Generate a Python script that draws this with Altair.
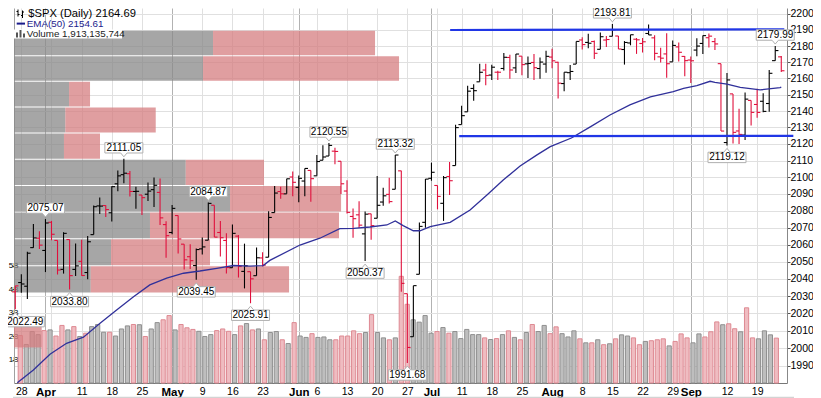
import altair as alt
import pandas as pd

FONT = "Liberation Sans"

# ---------------- data ----------------
dates = ["03-24","03-28","03-29","03-30","03-31",
 "04-01","04-04","04-05","04-06","04-07","04-08","04-11","04-12","04-13","04-14","04-15","04-18","04-19","04-20","04-21","04-22","04-25","04-26","04-27","04-28","04-29",
 "05-02","05-03","05-04","05-05","05-06","05-09","05-10","05-11","05-12","05-13","05-16","05-17","05-18","05-19","05-20","05-23","05-24","05-25","05-26","05-27","05-31",
 "06-01","06-02","06-03","06-06","06-07","06-08","06-09","06-10","06-13","06-14","06-15","06-16","06-17","06-20","06-21","06-22","06-23","06-24","06-27","06-28","06-29","06-30",
 "07-01","07-05","07-06","07-07","07-08","07-11","07-12","07-13","07-14","07-15","07-18","07-19","07-20","07-21","07-22","07-25","07-26","07-27","07-28","07-29",
 "08-01","08-02","08-03","08-04","08-05","08-08","08-09","08-10","08-11","08-12","08-15","08-16","08-17","08-18","08-19","08-22","08-23","08-24","08-25","08-26","08-29","08-30","08-31",
 "09-01","09-02","09-06","09-07","09-08","09-09","09-12","09-13","09-14","09-15","09-16","09-19","09-20","09-21","09-22","09-23"]

opens = [2032.48,2037.89,2035.75,2058.27,2063.77,
 2056.62,2073.19,2062.50,2045.56,2063.01,2045.54,2050.23,2043.72,2065.92,2082.89,2083.10,2078.83,2096.05,2101.52,2102.09,2091.49,2089.37,2089.84,2092.57,2090.93,2071.82,
 2067.17,2077.18,2060.30,2052.95,2047.77,2057.55,2062.63,2083.29,2067.17,2062.50,2046.53,2065.04,2044.38,2044.21,2041.88,2052.23,2052.65,2078.93,2091.44,2090.06,2100.13,
 2093.94,2097.71,2104.07,2100.83,2110.18,2112.71,2115.65,2109.57,2091.75,2076.65,2077.60,2066.36,2078.20,2075.58,2085.19,2089.75,2092.80,2103.81,2031.45,2006.67,2042.69,2073.17,
 2099.34,2095.05,2084.43,2100.42,2106.97,2131.72,2139.50,2153.81,2157.88,2165.13,2162.04,2163.79,2166.10,2172.91,2166.47,2173.71,2168.97,2169.81,2166.05,2168.83,
 2173.15,2169.94,2156.81,2163.51,2168.79,2183.76,2182.24,2182.81,2177.97,2183.74,2186.08,2186.24,2177.84,2181.90,2184.24,2181.58,2187.81,2185.09,2173.29,2175.10,2170.19,2179.45,2173.56,
 2171.33,2177.49,2181.61,2185.17,2182.76,2169.08,2120.86,2150.47,2127.86,2125.36,2146.48,2143.99,2145.94,2144.58,2170.94,2173.29]

highs = [2036.04,2042.67,2055.91,2072.21,2067.92,
 2075.07,2074.02,2062.50,2067.33,2063.01,2060.63,2062.93,2065.05,2083.18,2087.84,2083.22,2094.66,2104.05,2111.05,2103.78,2094.32,2089.37,2096.87,2099.89,2099.30,2073.85,
 2083.42,2077.18,2060.30,2060.23,2057.72,2064.15,2084.87,2083.29,2073.99,2066.79,2071.88,2065.69,2060.61,2044.21,2058.35,2055.58,2079.67,2094.73,2094.30,2099.06,2103.48,
 2100.97,2105.26,2104.07,2113.36,2119.22,2120.55,2117.64,2109.57,2098.12,2081.30,2085.65,2079.62,2078.20,2100.66,2093.66,2099.71,2113.32,2103.81,2031.45,2036.09,2073.13,2098.94,
 2108.71,2095.05,2100.72,2109.08,2131.71,2143.16,2155.40,2156.45,2168.99,2169.05,2168.35,2164.63,2175.63,2174.56,2175.11,2173.71,2173.54,2174.98,2172.85,2177.09,
 2178.29,2170.20,2163.79,2168.19,2182.87,2185.44,2187.66,2183.41,2188.45,2186.28,2193.81,2186.24,2183.08,2187.03,2185.00,2184.94,2193.42,2186.66,2179.00,2187.94,2183.48,2182.27,2173.79,
 2173.56,2184.87,2186.57,2187.87,2184.94,2169.08,2163.30,2150.47,2141.33,2151.31,2146.48,2153.61,2150.80,2165.11,2179.99,2173.75]

lows = [2022.49,2031.96,2028.31,2058.27,2057.46,
 2043.98,2062.57,2042.56,2043.09,2033.80,2041.69,2041.88,2039.74,2065.92,2078.13,2076.31,2073.65,2091.68,2096.32,2088.52,2081.20,2077.52,2085.80,2082.31,2071.62,2052.28,
 2066.11,2054.89,2045.55,2045.77,2039.45,2054.31,2062.63,2064.46,2053.13,2043.13,2046.53,2040.82,2034.49,2025.91,2041.88,2047.26,2052.65,2078.93,2087.08,2090.06,2088.66,
 2085.10,2088.59,2085.36,2100.83,2110.18,2112.71,2107.73,2089.96,2078.46,2064.10,2069.80,2050.37,2062.84,2075.58,2083.02,2084.36,2092.80,2032.57,1991.68,2006.67,2042.69,2070.00,
 2097.90,2080.86,2074.02,2089.39,2106.97,2131.72,2139.50,2146.21,2157.88,2155.79,2159.07,2159.01,2164.89,2159.75,2163.24,2161.95,2160.18,2159.07,2159.74,2163.49,
 2166.21,2147.58,2152.14,2159.07,2168.79,2177.85,2178.61,2172.00,2177.97,2179.42,2186.08,2178.14,2168.50,2180.46,2175.13,2175.96,2186.80,2171.25,2169.74,2160.39,2170.19,2170.41,2161.35,
 2157.09,2173.59,2175.10,2179.07,2177.49,2127.81,2119.12,2120.27,2119.90,2122.36,2131.20,2135.91,2139.17,2139.57,2170.94,2163.97]

closes = [2035.94,2037.05,2055.01,2063.95,2059.74,
 2072.78,2066.13,2045.17,2066.66,2041.91,2047.60,2041.99,2061.72,2082.42,2082.78,2080.73,2094.34,2100.80,2102.40,2091.48,2091.58,2087.79,2091.70,2095.15,2075.81,2065.30,
 2081.43,2063.37,2051.12,2050.63,2057.14,2058.69,2084.39,2064.46,2064.11,2046.61,2066.66,2047.21,2047.63,2040.04,2052.32,2048.04,2076.06,2090.54,2090.10,2099.06,2096.95,
 2099.33,2105.26,2099.13,2109.41,2112.13,2119.12,2115.48,2096.07,2079.06,2075.32,2071.50,2077.99,2071.22,2083.25,2088.90,2085.45,2113.32,2037.41,2000.54,2036.09,2070.77,2098.86,
 2102.95,2088.55,2099.73,2097.90,2129.90,2137.16,2152.14,2152.43,2163.75,2161.74,2166.89,2163.78,2173.02,2165.17,2175.03,2168.48,2169.18,2166.58,2170.06,2173.60,
 2170.84,2157.03,2163.79,2164.25,2182.87,2180.89,2181.74,2175.49,2185.79,2184.05,2190.15,2178.15,2182.22,2187.02,2183.87,2182.64,2186.90,2175.44,2172.47,2169.04,2180.38,2176.12,2170.95,
 2170.86,2179.98,2186.48,2186.16,2181.30,2127.81,2159.04,2127.02,2125.77,2147.26,2139.16,2139.12,2139.76,2163.12,2177.18,2164.69]
prev_close = 2036.71

# volume, billions
volumes = [2.02,1.64,2.19,2.06,2.23,
 2.26,2.00,2.45,2.26,2.40,1.98,2.12,2.40,2.49,2.16,2.16,2.00,2.30,2.43,2.49,2.48,1.98,2.30,2.57,2.69,2.87,
 2.26,2.49,2.35,2.28,2.20,1.98,2.06,2.23,2.30,2.20,2.06,2.43,2.53,2.26,2.30,1.84,2.15,2.19,1.84,1.68,2.57,
 2.00,1.94,2.10,1.94,1.96,1.84,1.84,2.00,2.00,2.22,2.10,2.15,2.91,2.15,1.92,1.84,1.92,4.54,3.35,2.69,2.59,2.87,
 2.12,2.19,2.36,2.12,2.19,1.89,2.28,2.06,2.06,1.92,1.85,1.89,2.06,2.22,1.94,1.84,2.15,2.49,2.19,2.45,
 2.10,2.39,2.10,1.96,2.22,1.88,1.71,1.71,1.84,1.63,1.67,1.88,2.05,2.00,1.92,1.63,1.77,1.80,1.84,1.88,1.58,1.77,2.09,
 1.92,1.71,2.09,1.96,2.18,2.60,2.48,2.52,2.31,2.18,3.20,1.92,1.88,2.22,2.05,1.91]

# EMA(50): bar position, value
ema_pos = [0.33,3.0,5.75,8.5,11.3,14.05,16.8,19.6,22.3,25.1,27.9,30.6,33.4,36.2,38.9,41.1,42.2,47.2,50.5,53.8,56.1,58.8,61.6,63.0,64.3,66.0,67.1,68.8,72.1,75.4,78.2,80.9,83.7,86.5,88.7,92.2,95.4,98.6,101.9,105.3,109.1,110.8,113.0,115.2,116.0,118.0,120.2,123.5,126.8,127.0]
ema_val = [1980.5,1987.7,1996.7,2002.9,2006.4,2014.4,2022.0,2029.7,2036.5,2040.4,2043.3,2044.6,2046.2,2047.8,2047.5,2047.8,2050.8,2059.8,2063.8,2069.4,2069.6,2070.4,2071.6,2074.0,2071.2,2068.2,2068.2,2070.6,2073.2,2080.5,2089.4,2098.3,2106.7,2113.4,2118.4,2123.6,2130.5,2137.6,2143.7,2148.7,2151.8,2153.9,2155.5,2158.2,2157.6,2156.5,2154.5,2152.9,2154.3,2154.61]

# volume by price zones (billions)
vbp_bounds = [2000.54,2016.34,2032.14,2047.94,2063.74,2079.55,2095.35,2111.15,2126.95,2142.75,2158.55,2174.35,2190.15]
vbp_up   = [0.0,0.0,8.92,11.28,15.81,25.12,19.97,5.81,5.97,6.40,21.98,23.14]
vbp_down = [3.22,0.0,23.06,11.51,21.98,12.91,9.10,4.19,10.51,2.44,22.79,18.84]

# annotations
ann_dates = ["03-24","04-01","04-07","04-20","05-06","05-10","05-19","06-08","06-16","06-23","06-27","08-15","09-12","09-22"]
ann_text  = ["2022.49","2075.07","2033.80","2111.05","2039.45","2084.87","2025.91","2120.55","2050.37","2113.32","1991.68","2193.81","2119.12","2179.99"]
ann_side  = ["edge","high","low","high","low","high","low","high","low","high","low","high","low","high"]

# trend lines (bar position, price)
tl_pos0 = [72.1, 73.6]
tl_pos1 = [127.5, 129.0]
tl_p0 = [2190.0, 2124.7]
tl_p1 = [2190.4, 2124.9]

grid_dates = ["03-28","04-01","04-04","04-11","04-18","04-25","05-02","05-09","05-16","05-23","05-31","06-01","06-06","06-13","06-20","06-27","07-01","07-05","07-11","07-18","07-25","08-01","08-08","08-15","08-22","08-29","09-01","09-06","09-12","09-19"]
grid_labels = ["28","Apr","","11","18","25","May","9","16","23","","Jun","6","13","20","27","Jul","","11","18","25","Aug","8","15","22","29","Sep","","12","19"]
month_dates = ["04-01","05-02","06-01","07-01","08-01","09-01"]

# ---------------- build ----------------
N = len(dates)
idx_of = {d: k for k, d in enumerate(dates)}
prevs = [prev_close] + closes[:-1]
df = pd.DataFrame({"i": list(range(N)), "open": opens, "high": highs, "low": lows,
                   "close": closes, "vol": volumes,
                   "dir": ["down" if c < p else "up" for c, p in zip(closes, prevs)]})

W, H = 773, 375
xs = alt.Scale(domain=[-0.2155, 127.95], nice=False, zero=False)
ps = alt.Scale(type="log", domain=[1980.37, 2203.76], nice=False)
vs = alt.Scale(domain=[0, 15.96], nice=False, zero=True)

RED = "#e0103c"
is_down = "datum.dir == 'down'"
bar_color = alt.condition(is_down, alt.value(RED), alt.value("#000000"))

grid_idx = [idx_of[d] for d in grid_dates]
month_idx = [idx_of[d] for d in month_dates]
label_expr = "".join("datum.value == %d ? '%s' : " % (k, t) for k, t in zip(grid_idx, grid_labels)) + "''"
is_month = "indexof(%s, datum.value) >= 0" % str(month_idx)

x_axis = alt.Axis(orient="bottom", values=grid_idx, labelExpr=label_expr, grid=True,
                  gridColor={"condition": {"test": is_month, "value": "#b2b2b2"}, "value": "#e0e0e0"},
                  labelFontWeight={"condition": {"test": is_month, "value": "bold"}, "value": "normal"},
                  labelFontSize={"condition": {"test": is_month, "value": 11.5}, "value": 10.5},
                  ticks=False, labelPadding=3, domainColor="#777777", labelColor="#000000",
                  labelFont=FONT, labelFlush=False, labelOverlap=False, title=None)
y_axis = alt.Axis(orient="right", values=list(range(1990, 2201, 10)), format="d", grid=True,
                  gridColor="#e0e0e0", tickSize=3, tickColor="#555555", domainColor="#888888",
                  labelFont=FONT, labelFontSize=10.5, labelColor="#000000", labelPadding=0,
                  labelFlush=False, labelOverlap=False, title=None)
# volume labels kept inside the page's visible strip at the left edge
v_axis = alt.Axis(orient="left", values=[1, 2, 3, 4, 5], labelExpr="datum.value + 'B'", grid=False,
                  tickSize=2, tickColor="#555555", domainColor="#a0a0a0", labelFont=FONT,
                  labelFontSize=8, labelColor="#000000", labelPadding=3.8, labelAlign="left",
                  labelFlush=False, title=None)

def X(f, ax=None):
    return alt.X(f, type="quantitative", scale=xs, axis=ax)
def P(f, ax=None):
    return alt.Y(f, type="quantitative", scale=ps, axis=ax)

# volume bars
vol = alt.Chart(df).mark_bar(size=4.2, strokeWidth=1).encode(
    x=X("i"), y=alt.Y("vol:Q", scale=vs, axis=v_axis),
    fill=alt.condition(is_down, alt.value("#efbcc1"), alt.value("#bebebe")),
    stroke=alt.condition(is_down, alt.value("#de8992"), alt.value("#8f8f8f")))

# volume by price
vb = pd.DataFrame({"lo": vbp_bounds[:-1], "hi": vbp_bounds[1:], "up": vbp_up, "down": vbp_down})
vb["zero"] = 0.0
vb["tot"] = vb["up"] + vb["down"]
vbs = alt.Scale(domain=[0, 89.88], nice=False, zero=True)
vbp_g = alt.Chart(vb).mark_rect(color="#888888", opacity=0.75, y2Offset=1).encode(
    x=alt.X("zero:Q", scale=vbs, axis=None), x2="up:Q", y=P("lo"), y2="hi:Q")
vbp_p = alt.Chart(vb).mark_rect(color="#d67e80", opacity=0.75, y2Offset=1).encode(
    x=alt.X("up:Q", scale=vbs, axis=None), x2="tot:Q", y=P("lo"), y2="hi:Q")

# price bars (this layer carries the price and date axes)
hl = alt.Chart(df).mark_rule(strokeWidth=1.1).encode(
    x=X("i", x_axis), y=P("low", y_axis), y2="high:Q", color=bar_color)
op = alt.Chart(df).mark_rule(strokeWidth=1.1, xOffset=-3.2).encode(
    x=X("i"), x2=alt.X2("i"), y=P("open"), color=bar_color)
cl = alt.Chart(df).mark_rule(strokeWidth=1.1, x2Offset=3.2).encode(
    x=X("i"), x2=alt.X2("i"), y=P("close"), color=bar_color)

ema_df = pd.DataFrame({"i": ema_pos, "ema": ema_val})
ema = alt.Chart(ema_df).mark_line(color="#30309a", strokeWidth=1.3, clip=True).encode(
    x=X("i"), y=P("ema"))

tl = pd.DataFrame({"a": tl_pos0, "b": tl_pos1, "pa": tl_p0, "pb": tl_p1})
tlines = alt.Chart(tl).mark_rule(color="#2036e6", strokeWidth=2.2).encode(
    x=X("a"), x2="b:Q", y=P("pa"), y2="pb:Q")

an = pd.DataFrame({"i": [idx_of[d] for d in ann_dates], "p": [float(t) for t in ann_text],
                   "t": ann_text, "side": ann_side})
up_shape = "M-0.95,-0.26L0.95,-0.26L0.95,0.26L0.16,0.26L0,0.45L-0.16,0.26L-0.95,0.26Z"
dn_shape = "M-0.95,0.26L0.95,0.26L0.95,-0.26L0.16,-0.26L0,-0.45L-0.16,-0.26L-0.95,-0.26Z"
edge_shape = "M-0.95,0.26L0.95,0.26L0.95,-0.26L-0.34,-0.26L-0.5,-0.45L-0.66,-0.26L-0.95,-0.26Z"
BOX = dict(size=1600, fill="white", stroke="#b0b0b0", strokeWidth=1, opacity=1, fillOpacity=1)
TXT = dict(font=FONT, fontSize=10, color="#000000", baseline="middle")

def ann_layers(side, shape, yoff, xoff=0):
    base = alt.Chart(an).transform_filter("datum.side == '%s'" % side)
    b = base.mark_point(shape=shape, yOffset=yoff, xOffset=xoff, **BOX).encode(x=X("i"), y=P("p"))
    t = base.mark_text(dy=yoff, dx=xoff, **TXT).encode(x=X("i"), y=P("p"), text="t:N")
    return [b, t]

annos = ann_layers("high", up_shape, -11) + ann_layers("low", dn_shape, 12) + ann_layers("edge", edge_shape, 12.5, 10)

# legend / decorations (pixel positions)
one = pd.DataFrame({"k": [0]})
def rule(x1, x2, y1, y2, color, w=1):
    return alt.Chart(one).mark_rule(color=color, strokeWidth=w).encode(
        x=alt.value(x1), x2=alt.value(x2), y=alt.value(y1), y2=alt.value(y2))
def box(x1, x2, y1, y2, color):
    return alt.Chart(one).mark_rect(color=color).encode(
        x=alt.value(x1), x2=alt.value(x2), y=alt.value(y1), y2=alt.value(y2))
def text(s, x, y, size, color):
    return alt.Chart(one).mark_text(text=s, font=FONT, fontSize=size, color=color,
                                    align="left", baseline="middle").encode(
        x=alt.value(x), y=alt.value(y))

deco = [
    box(-0.5, 108, 21.5, 30.5, "#ffffff"),
    text("$SPX (Daily) 2164.69", 14.3, 5.6, 11.2, "#000000"),
    text("EMA(50) 2154.61", 12.7, 15.6, 9.8, "#1a1a8c"),
    text("Volume 1,913,135,744", 12.7, 26.0, 9.8, "#222222"),
    rule(4, 4, 1.5, 8.5, "#000000"), rule(2.5, 4, 3.5, 3.5, "#000000"), rule(4, 5.5, 6.5, 6.5, "#000000"),
    rule(8.5, 8.5, 2.5, 10, "#000000"), rule(7, 8.5, 7.5, 7.5, "#000000"), rule(8.5, 10, 4, 4, "#000000"),
    rule(2.7, 11, 15.6, 15.6, "#1a1a8c", 2),
    box(2, 4, 24.5, 29.5, "#555555"), box(5.5, 7.5, 22, 29.5, "#555555"), box(9, 11, 25.5, 29.5, "#555555"),
    rule(-1, 780, 389.3, 389.3, "#c8c8c8"),
]

chart = alt.layer(vol, vbp_g, vbp_p, hl, op, cl, ema, tlines, *annos, *deco).resolve_scale(
    x="independent", y="independent"
).properties(
    width=W, height=H,
    padding={"left": 6, "top": 0, "right": 26, "bottom": 15},
    autosize=alt.AutoSizeParams(type="none"),
    background="white",
).configure_view(stroke=None)

chart.save("out.html", embed_options={"renderer": "svg", "actions": False})
